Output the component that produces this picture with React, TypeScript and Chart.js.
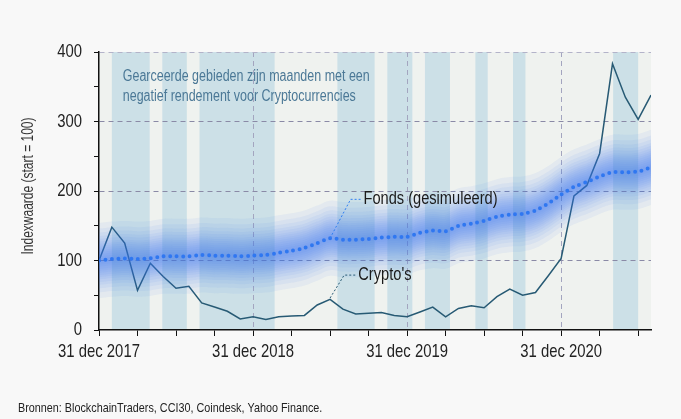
import React, { useEffect, useRef } from "react";
import { Chart, registerables } from "chart.js";

Chart.register(...registerables);

// ---- data (month index 0 = 31 dec 2017) ----
const months: number[] = Array.from({ length: 44 }, (_, i) => i);
const crypto: number[] = [
  100, 148, 125, 57, 96, 77, 60, 63, 39, 33, 27, 16, 19, 15, 19, 20,
  21, 36, 44, 30, 23, 24, 25, 21, 19, 26, 33, 19, 31, 35, 32, 48,
  59, 50, 54, 78, 103, 193, 208, 254, 383, 335, 303, 338,
];
const fonds: number[] = [
  100, 102, 103, 102, 103, 106, 106, 106, 108, 107, 107, 106, 107, 108, 111, 114,
  118, 125, 132, 130, 130, 131, 133, 134, 134, 140, 143, 142, 150, 153, 157, 163,
  166, 167, 172, 182, 195, 206, 213, 221, 227, 227, 228, 234,
];
const shadeStart: number[] = [1.0, 4.93, 7.83, 18.57, 22.46, 25.39, 29.32, 32.25, 40.05];
const shadeEnd: number[] = [3.95, 6.84, 13.68, 21.47, 24.41, 27.34, 30.28, 33.22, 42.0];
const yearTickLabels: string[] = ["31 dec 2017", "31 dec 2018", "31 dec 2019", "31 dec 2020"];
const yTickLabels: string[] = ["0", "100", "200", "300", "400"];
const bandOffsets: number[] = [3, 6, 9, 12, 15, 18, 21, 24, 27, 31, 35, 40, 46, 54];

const FONT = "'Liberation Sans', Arial, sans-serif";
const NARROW = 0.8;

function narrowText(ctx: any, text: string, x: number, y: number, size: number, color: string, align: string, rot = 0, sx = NARROW) {
  ctx.save();
  ctx.translate(x, y);
  if (rot) ctx.rotate(rot);
  ctx.scale(sx, 1);
  ctx.font = `${size}px ${FONT}`;
  ctx.fillStyle = color;
  ctx.textAlign = align;
  ctx.textBaseline = "middle";
  ctx.fillText(text, 0, 0);
  ctx.restore();
}

const bgPlugin = {
  id: "bgShade",
  beforeDraw(chart: any) {
    const { ctx, chartArea, scales } = chart;
    const { left, right, top, bottom } = chartArea;
    ctx.save();
    ctx.fillStyle = "#eff2ef";
    ctx.fillRect(left, top, right - left, bottom - top);
    ctx.fillStyle = "#cce0e7";
    for (let i = 0; i < shadeStart.length; i++) {
      const x0 = scales.x.getPixelForValue(shadeStart[i]);
      const x1 = scales.x.getPixelForValue(shadeEnd[i]);
      ctx.fillRect(x0, top, x1 - x0, bottom - top);
    }
    ctx.restore();
  },
  afterDraw(chart: any) {
    const { ctx, scales } = chart;
    const x = scales.x;
    const y = scales.y;
    ctx.save();

    // axis labels
    x.ticks.forEach((t: any) => {
      if (t.value % 12 === 0) {
        narrowText(ctx, yearTickLabels[t.value / 12], x.getPixelForValue(t.value), 352, 18.6, "#222", "center");
      }
    });
    y.ticks.forEach((t: any) => {
      if (t.value % 100 === 0) {
        narrowText(ctx, yTickLabels[t.value / 100], 82, y.getPixelForValue(t.value), 18.6, "#222", "right");
      }
    });
    narrowText(ctx, "Indexwaarde (start = 100)", 29, 186, 16, "#333", "center", -Math.PI / 2, 0.75);

    // note text
    narrowText(ctx, "Gearceerde gebieden zijn maanden met een", x.getPixelForValue(1.85), y.getPixelForValue(364), 15.8, "#4b7896", "left", 0, 0.79);
    narrowText(ctx, "negatief rendement voor Cryptocurrencies", x.getPixelForValue(1.85), y.getPixelForValue(336), 15.8, "#4b7896", "left", 0, 0.79);

    // fonds leader
    ctx.setLineDash([2, 2]);
    ctx.lineWidth = 1;
    ctx.strokeStyle = "#2f7ff2";
    ctx.beginPath();
    ctx.moveTo(x.getPixelForValue(18), y.getPixelForValue(132));
    ctx.lineTo(x.getPixelForValue(19.6), y.getPixelForValue(188));
    ctx.lineTo(x.getPixelForValue(20.5), y.getPixelForValue(188));
    ctx.stroke();
    // crypto leader
    ctx.strokeStyle = "#275a74";
    ctx.beginPath();
    ctx.moveTo(x.getPixelForValue(18), y.getPixelForValue(46));
    ctx.lineTo(x.getPixelForValue(19.1), y.getPixelForValue(79));
    ctx.lineTo(x.getPixelForValue(20.0), y.getPixelForValue(79));
    ctx.stroke();
    ctx.setLineDash([]);

    narrowText(ctx, "Fonds (gesimuleerd)", x.getPixelForValue(20.6), y.getPixelForValue(188), 18.3, "#1a1a1a", "left");
    narrowText(ctx, "Crypto's", x.getPixelForValue(20.2), y.getPixelForValue(79), 18.3, "#1a1a1a", "left");

    // source
    narrowText(ctx, "Bronnen: BlockchainTraders, CCI30, Coindesk, Yahoo Finance.", 18, 408, 13.5, "#222", "left");
    ctx.restore();
  },
};

export default function App() {
  const ref = useRef<HTMLCanvasElement | null>(null);
  useEffect(() => {
    document.body.style.margin = "0";
    document.body.style.background = "#f8f8f8";
    const canvas = ref.current!;
    const datasets: any[] = [];
    bandOffsets.forEach((d) => {
      datasets.push({
        data: months.map((m, i) => ({ x: m, y: fonds[i] + d })),
        borderWidth: 0,
        pointRadius: 0,
        tension: 0.4,
        fill: "+1",
        backgroundColor: "rgba(60,125,240,0.065)",
        borderColor: "transparent",
      });
      datasets.push({
        data: months.map((m, i) => ({ x: m, y: fonds[i] - d })),
        borderWidth: 0,
        pointRadius: 0,
        tension: 0.4,
        fill: false,
        borderColor: "transparent",
      });
    });
    datasets.push({
      data: months.map((m, i) => ({ x: m, y: fonds[i] })),
      borderColor: "#2f7ff2",
      borderWidth: 4,
      borderDash: [0, 6.5],
      borderCapStyle: "round",
      pointRadius: 0,
      fill: false,
      tension: 0.2,
    });
    datasets.push({
      data: months.map((m, i) => ({ x: m, y: crypto[i] })),
      borderColor: "#275a74",
      borderWidth: 1.5,
      pointRadius: 0,
      fill: false,
      tension: 0,
    });

    const chart = new Chart(canvas, {
      type: "line",
      data: { datasets },
      plugins: [bgPlugin],
      options: {
        animation: false,
        responsive: false,
        devicePixelRatio: 1,
        layout: { padding: { top: 52, right: 30, left: 0, bottom: 0 } },
        plugins: { legend: { display: false }, tooltip: { enabled: false } },
        scales: {
          x: {
            type: "linear",
            min: 0,
            max: 43,
            afterFit: (s: any) => { s.height = 89; },
            ticks: {
              stepSize: 3,
              autoSkip: false,
              includeBounds: false,
              maxRotation: 0,
              display: false,
            },
            grid: {
              color: (c: any) => (c.tick && c.tick.value % 12 === 0 && c.tick.value > 0 ? "#a3a5bf" : "transparent"),
              tickColor: "#111",
              tickLength: 6,
              lineWidth: 1,
            },
            border: { display: true, color: "#111", width: 1.5, dash: [5, 4] },
          },
          y: {
            min: 0,
            max: 400,
            afterFit: (s: any) => { s.width = 99; },
            ticks: { stepSize: 50, display: false },
            grid: {
              color: (c: any) => {
                const v = c.tick ? c.tick.value : 0;
                if (v === 400) return "#b3b3c9";
                if (v > 0 && v % 100 === 0) return "#8a8aa6";
                return "transparent";
              },
              tickColor: "#111",
              tickLength: 5,
              lineWidth: 1,
            },
            border: { display: true, color: "#111", width: 1.5, dash: [5, 4] },
          },
        },
      },
    } as any);
    return () => chart.destroy();
  }, []);
  return (
    <div style={{ width: 681, height: 419, background: "#f8f8f8" }}>
      <canvas ref={ref} width={681} height={419} style={{ display: "block" }} />
    </div>
  );
}
